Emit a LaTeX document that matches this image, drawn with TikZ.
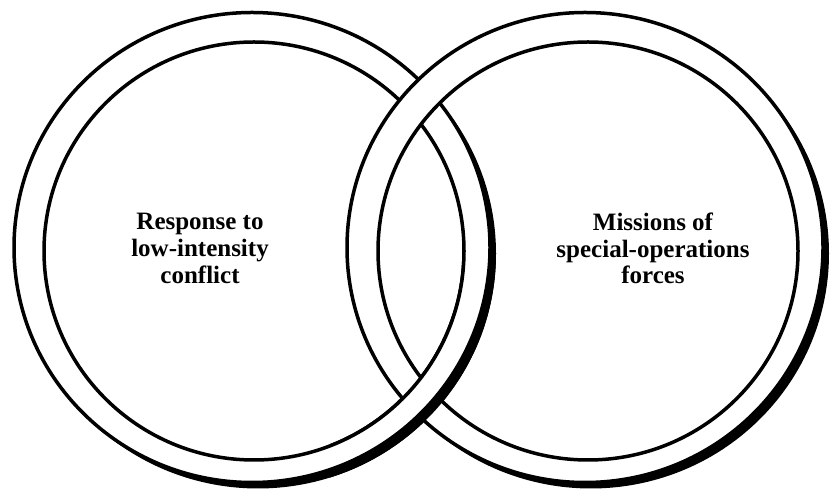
\documentclass[tikz,border=0pt]{standalone}
\usepackage{fontspec}
\setmainfont{Liberation Serif}
\newcommand\ringdraw[4]{%
  \fill[white,even odd rule] (#1,#2) ellipse[x radius=238,y radius=235]
        (#3,#4) ellipse[x radius=210,y radius=209];
  \begin{scope}[shift={(#1,#2)}]
    \fill[black] (45:238 and 235) arc[start angle=45,end angle=-135,x radius=238,y radius=235]
       -- ++(6,-6) arc[start angle=-135,end angle=45,x radius=238,y radius=235] -- cycle;
  \end{scope}
  \draw[ringline] (#1,#2) ellipse[x radius=238,y radius=235];
  \draw[ringline] (#3,#4) ellipse[x radius=210,y radius=209];
}
\begin{document}
\begin{tikzpicture}[x=1pt,y=1pt,
  ringline/.style={line width=3.5pt},
  lbl/.style={font=\bfseries\fontsize{25}{26.7}\selectfont, align=center, inner sep=0pt}]
\useasboundingbox (0,0) rectangle (832,492);
\fill[white] (0,0) rectangle (832,492);
\ringdraw{252}{244.5}{254}{241}
\ringdraw{585}{244.5}{588}{241}
\begin{scope}
  \clip (330,0) rectangle (520,244.5);
  \ringdraw{252}{244.5}{254}{241}
\end{scope}
\node[lbl] (lowint) at (200,243.5) {Response to\\low-intensity\\conflict};
\node[lbl] (sof) at (653,243.5) {Missions of\\special-operations\\forces};
\end{tikzpicture}
\end{document}
